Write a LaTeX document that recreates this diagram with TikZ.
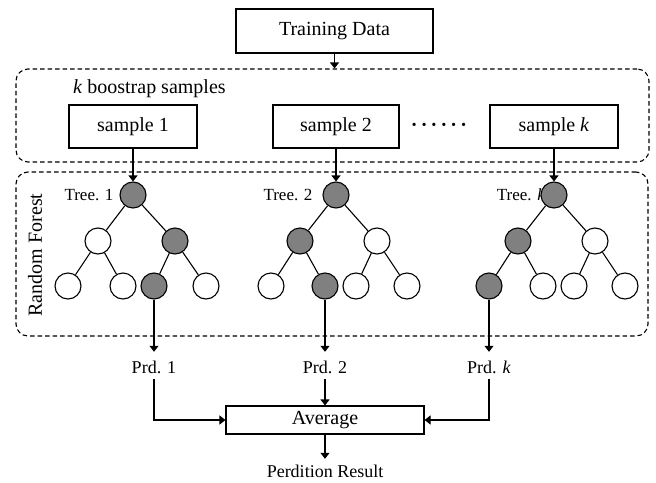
\documentclass[tikz,border=0pt]{standalone}
\usepackage{fontspec}
\setmainfont{Liberation Serif}
\usetikzlibrary{arrows.meta,positioning}
\definecolor{nodegrey}{RGB}{128,128,128}
\begin{document}
\begin{tikzpicture}[x=1pt,y=-1pt,
  lw/.style={line width=1.1pt},
  big/.style={font=\fontsize{20}{24}\selectfont},
  mid/.style={font=\fontsize{18}{22}\selectfont},
  small/.style={font=\fontsize{17}{20}\selectfont},
  box/.style={draw,lw,rectangle,inner sep=0pt,big},
  dbox/.style={draw,lw,rectangle,rounded corners=12pt,inner sep=0pt,dash pattern=on 4.5pt off 3pt},
  wn/.style={circle,draw,lw,fill=white,minimum size=26pt,inner sep=0pt},
  gn/.style={circle,draw,lw,fill=nodegrey,minimum size=26pt,inner sep=0pt},
  tl/.style={lw},
  arr/.style={lw,-{Triangle[length=6pt,width=9pt]}},
  prd/.style={mid,inner xsep=0pt,inner ysep=0pt,text height=21pt,text depth=6pt,anchor=base}
]
\useasboundingbox (0,0) rectangle (656,482);

% top
\node[box,minimum width=197pt,minimum height=44pt] (td) at (334.5,31) {Training Data};
\node[dbox,minimum width=633pt,minimum height=93pt] (b1) at (332.5,115.5) {};
\draw[arr] (td.south) -- (td.south |- b1.north);
\node[big,anchor=west,inner sep=0pt] (ktxt) at (73,89) {\textit{k} boostrap samples};
\node[box,minimum width=128pt,minimum height=43pt] (s1) at (133,126.5) {sample 1};
\node[box,minimum width=126pt,minimum height=43pt] (s2) at (336,126.5) {sample 2};
\node[box,minimum width=128pt,minimum height=43pt] (sk) at (554,126.5) {sample \textit{k}};
\node[big,inner sep=0pt] (dots) at (439,127) {\textbf{\textperiodcentered\hspace{3.2pt}\textperiodcentered\hspace{3.2pt}\textperiodcentered\hspace{3.2pt}\textperiodcentered\hspace{3.2pt}\textperiodcentered\hspace{3.2pt}\textperiodcentered}};

% forest box
\node[dbox,minimum width=632pt,minimum height=164pt] (b2) at (332,254) {};
\node[big,rotate=90,inner sep=0pt] (rf) at (35,255) {Random Forest};

% tree labels
\node[small,inner sep=0pt] (t1l) at (89,195) {Tree. 1};
\node[small,inner sep=0pt] (t2l) at (288,195) {Tree. 2};
\node[small,inner sep=0pt] (tkl) at (521,195) {Tree. \textit{k}};

% tree 1
\node[gn] (a0) at (133,195) {};
\node[wn] (a1) at (98,241) {};
\node[gn] (a2) at (175,241) {};
\node[wn] (a3) at (68,286) {};
\node[wn] (a4) at (123,286) {};
\node[gn] (a5) at (154,286) {};
\node[wn] (a6) at (206,286) {};
\draw[tl] (a0)--(a1) (a0)--(a2) (a1)--(a3) (a1)--(a4) (a2)--(a5) (a2)--(a6);

% tree 2
\node[gn] (b0) at (336,195) {};
\node[gn] (bb1) at (300,241) {};
\node[wn] (bb2) at (377,241) {};
\node[wn] (bb3) at (271,286) {};
\node[gn] (bb4) at (325,286) {};
\node[wn] (bb5) at (356,286) {};
\node[wn] (bb6) at (407,286) {};
\draw[tl] (b0)--(bb1) (b0)--(bb2) (bb1)--(bb3) (bb1)--(bb4) (bb2)--(bb5) (bb2)--(bb6);

% tree k
\node[gn] (c0) at (554,195) {};
\node[gn] (c1) at (518,241) {};
\node[wn] (c2) at (595,241) {};
\node[gn] (c3) at (489,286) {};
\node[wn] (c4) at (543,286) {};
\node[wn] (c5) at (574,286) {};
\node[wn] (c6) at (625,286) {};
\draw[tl] (c0)--(c1) (c0)--(c2) (c1)--(c3) (c1)--(c4) (c2)--(c5) (c2)--(c6);

% sample -> roots
\draw[arr] (s1.south) -- (a0.north);
\draw[arr] (s2.south) -- (b0.north);
\draw[arr] (sk.south) -- (c0.north);

% predictions
\node[prd] (p1) at (154,373) {Prd. 1};
\node[prd] (p2) at (325,373) {Prd. 2};
\node[prd] (pk) at (489,373) {Prd. \textit{k}};
\draw[arr] (a5.south) -- (p1.north);
\draw[arr] (bb4.south) -- (p2.north);
\draw[arr] (c3.south) -- (pk.north);

\node[box,minimum width=198pt,minimum height=28pt] (avg) at (325,420) {Average};
\draw[arr] (p1.south) |- (avg.west);
\draw[arr] (p2.south) -- (avg.north);
\draw[arr] (pk.south) |- (avg.east);

\node[mid,inner xsep=0pt,inner ysep=0pt,text height=18pt,text depth=2pt,anchor=base] (res) at (325,477) {Perdition Result};
\draw[arr] (avg.south) -- (res.north);
\end{tikzpicture}
\end{document}
